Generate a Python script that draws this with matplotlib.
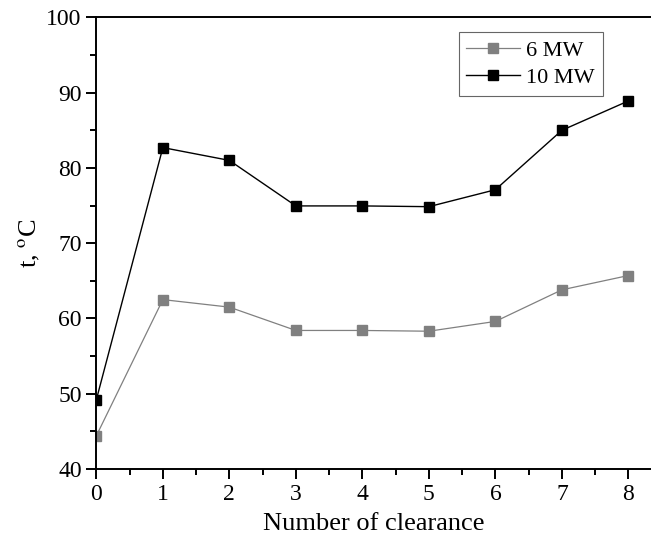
import matplotlib
matplotlib.use("Agg")
from matplotlib import pyplot as plt
from matplotlib.ticker import MultipleLocator

# data
clearance = [0, 1, 2, 3, 4, 5, 6, 7, 8]
t_6mw = [44.4, 62.5, 61.5, 58.4, 58.4, 58.3, 59.6, 63.8, 65.7]
t_10mw = [49.2, 82.7, 81.0, 74.95, 74.95, 74.85, 77.1, 85.0, 88.9]

plt.rcParams['font.family'] = ['Liberation Serif', 'DejaVu Serif']
plt.rcParams['mathtext.fontset'] = 'stix'

fig = plt.figure(figsize=(6.51, 5.44), dpi=100)
ax = fig.add_axes([0.148, 0.138, 0.852, 0.83])

ax.plot(clearance, t_6mw, '-s', color='#808080', lw=0.9, ms=7.5, label='6 MW')
ax.plot(clearance, t_10mw, '-s', color='black', lw=1.0, ms=7.5, label='10 MW')

ax.set_xlim(0, 8.34)
ax.set_ylim(40, 100)
ax.xaxis.set_major_locator(MultipleLocator(1))
ax.xaxis.set_minor_locator(MultipleLocator(0.5))
ax.yaxis.set_major_locator(MultipleLocator(10))
ax.yaxis.set_minor_locator(MultipleLocator(5))
ax.tick_params(which='major', direction='out', length=7, width=1.4, labelsize=17)
ax.tick_params(which='minor', direction='out', length=4.3, width=1.4)
for s in ['left', 'bottom', 'top']:
    ax.spines[s].set_linewidth(1.4)
ax.spines['right'].set_visible(False)

ax.set_xlabel('Number of clearance', fontsize=19, labelpad=6)
ax.set_ylabel('t, $^{\\mathrm{o}}$C', fontsize=19, labelpad=3)

leg = ax.legend(loc='upper right', bbox_to_anchor=(0.913, 0.967), fontsize=16,
                frameon=True, fancybox=False, edgecolor='#404040',
                handlelength=2.4, borderpad=0.35, labelspacing=0.3,
                handletextpad=0.3, borderaxespad=0)
leg.get_frame().set_linewidth(0.8)

fig.savefig('out.png', dpi=100)
